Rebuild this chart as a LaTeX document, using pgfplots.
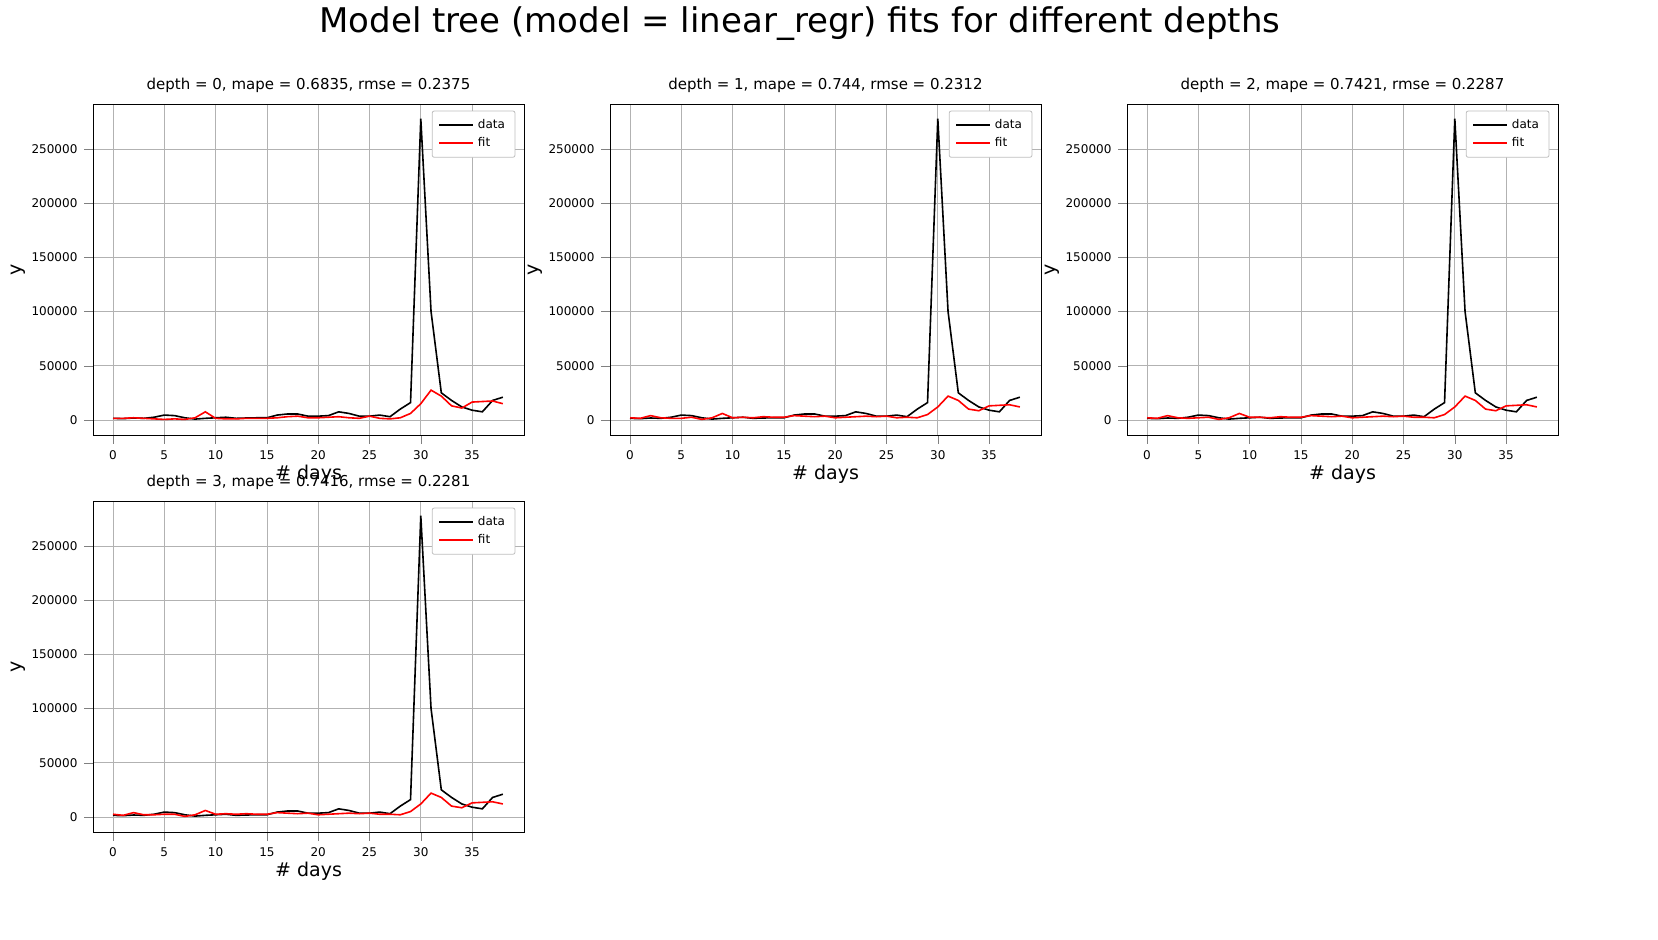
\documentclass[border=0pt]{standalone}
\usepackage{pgfplots}
\pgfplotsset{compat=1.18}
\usepackage{fontspec}
\setmainfont{DejaVu Sans}
\begin{document}
\begin{tikzpicture}
\path (0pt,0pt) rectangle (829pt,-469.5pt);
\node[font=\fontsize{17}{20}\selectfont] at (400pt,-12pt) {Model tree (model = linear\_regr) fits for different depths};
\def\datapts{(0,1500)(1,1200)(2,1800)(3,1500)(4,2500)(5,4500)(6,4000)(7,2000)(8,800)(9,1500)(10,2000)(11,2500)(12,1500)(13,1800)(14,2000)(15,2000)(16,4500)(17,5500)(18,5500)(19,3500)(20,3500)(21,4000)(22,7500)(23,6000)(24,3500)(25,3500)(26,4500)(27,3000)(28,10000)(29,16000)(30,278000)(31,100000)(32,25000)(33,18000)(34,12000)(35,9000)(36,7500)(37,18000)(38,21000)}
\pgfplotsset{myax/.style={scale only axis,width=215.5pt,height=165.5pt,anchor=north west,
 xmin=-1.95,xmax=40.06,ymin=-13900,ymax=291500,
 xtick={0,5,...,35},ytick={0,50000,100000,150000,200000,250000},
 scaled y ticks=false, yticklabel style={/pgf/number format/.cd,fixed,1000 sep={}},
 /pgf/number format/assume math mode=true,
 tick label style={font=\fontsize{6}{7}\selectfont},
 grid=major, grid style={gray!60,line width=0.4pt},
 tick align=outside, tick pos=left,
 xlabel={\# days}, ylabel={y}, label style={font=\fontsize{9.5}{11}\selectfont},
 xlabel style={yshift=4pt}, ylabel style={yshift=-4pt},
 title style={font=\fontsize{7.5}{9}\selectfont,yshift=-4pt},
 legend style={at={(0.98,0.98)},anchor=north east,font=\fontsize{6}{7}\selectfont,draw=gray!50,rounded corners=1pt,row sep=-1pt},
 legend cell align=left}}
\begin{axis}[myax,at={(46.5pt,-52pt)},title={depth = 0, mape = 0.6835, rmse = 0.2375}]
\addplot[black,thick] coordinates {\datapts};
\addplot[red,thick] coordinates {(0,1500)(1,1500)(2,2000)(3,1500)(4,1000)(5,500)(6,1000)(7,500)(8,2000)(9,7500)(10,1500)(11,1000)(12,1000)(13,1500)(14,1500)(15,1500)(16,2000)(17,3000)(18,3500)(19,2000)(20,2000)(21,2500)(22,3000)(23,2000)(24,1500)(25,3500)(26,1500)(27,1000)(28,2000)(29,6000)(30,15000)(31,27500)(32,22000)(33,13000)(34,11000)(35,16500)(36,17000)(37,17500)(38,15000)};
\legend{data,fit}
\end{axis}
\begin{axis}[myax,at={(305pt,-52pt)},title={depth = 1, mape = 0.744, rmse = 0.2312}]
\addplot[black,thick] coordinates {\datapts};
\addplot[red,thick] coordinates {(0,2000)(1,1500)(2,4000)(3,2000)(4,1500)(5,1500)(6,2500)(7,500)(8,2000)(9,6000)(10,2000)(11,2500)(12,2000)(13,3000)(14,2500)(15,2500)(16,4000)(17,3500)(18,3000)(19,3500)(20,2000)(21,2500)(22,3000)(23,3500)(24,3000)(25,3500)(26,2000)(27,2500)(28,2000)(29,5000)(30,12000)(31,22000)(32,18000)(33,10000)(34,8500)(35,13000)(36,13500)(37,14000)(38,12000)};
\legend{data,fit}
\end{axis}
\begin{axis}[myax,at={(563.5pt,-52pt)},title={depth = 2, mape = 0.7421, rmse = 0.2287}]
\addplot[black,thick] coordinates {\datapts};
\addplot[red,thick] coordinates {(0,2000)(1,1500)(2,4000)(3,2000)(4,1500)(5,2000)(6,2500)(7,500)(8,2000)(9,6000)(10,2500)(11,2500)(12,2000)(13,3000)(14,2500)(15,2500)(16,4000)(17,3500)(18,3000)(19,3500)(20,2000)(21,2500)(22,3000)(23,3500)(24,3000)(25,3500)(26,2500)(27,2500)(28,2000)(29,5000)(30,12000)(31,22000)(32,18000)(33,10000)(34,8500)(35,13000)(36,13500)(37,14000)(38,12000)};
\legend{data,fit}
\end{axis}
\begin{axis}[myax,at={(46.5pt,-250.5pt)},title={depth = 3, mape = 0.7416, rmse = 0.2281}]
\addplot[black,thick] coordinates {\datapts};
\addplot[red,thick] coordinates {(0,2500)(1,1500)(2,4000)(3,2000)(4,2000)(5,2500)(6,2500)(7,500)(8,2000)(9,6000)(10,2500)(11,3000)(12,2500)(13,3000)(14,2500)(15,2500)(16,4000)(17,3500)(18,3000)(19,3500)(20,2000)(21,2500)(22,3000)(23,3500)(24,3000)(25,3500)(26,2500)(27,2500)(28,2000)(29,5000)(30,12000)(31,22000)(32,18000)(33,10000)(34,8500)(35,13000)(36,13500)(37,14000)(38,12000)};
\legend{data,fit}
\end{axis}
\end{tikzpicture}
\end{document}
